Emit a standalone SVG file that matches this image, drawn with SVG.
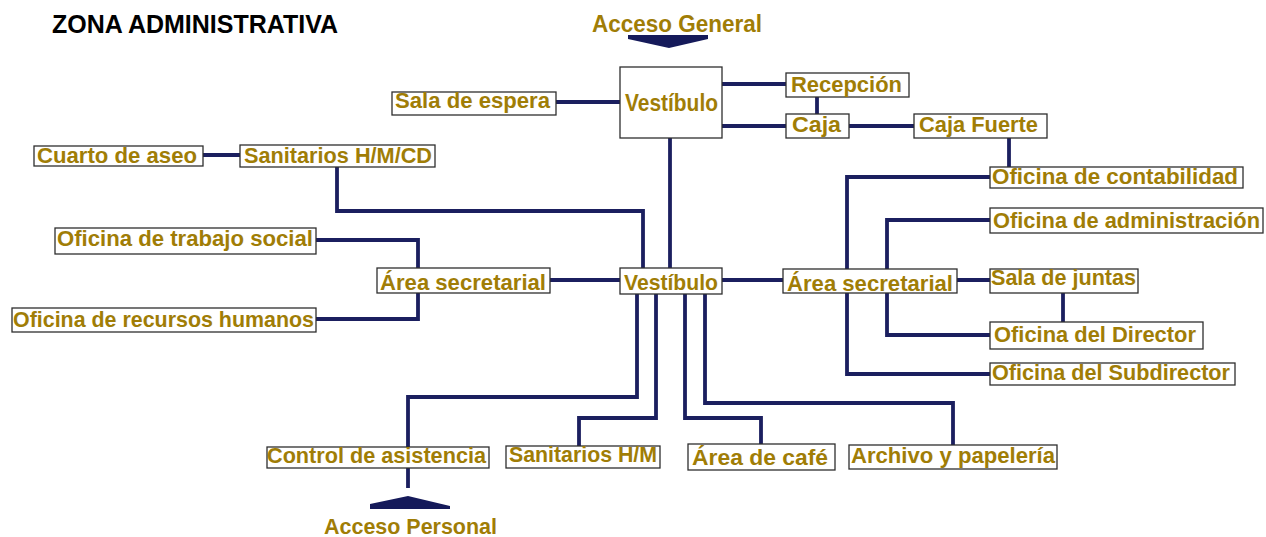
<svg xmlns="http://www.w3.org/2000/svg" width="1266" height="537" viewBox="0 0 1266 537">
<style>
  .bg{fill:#ffffff}
  .box{fill:#ffffff;stroke:#2e2e2e;stroke-width:1.3}
  .lbl{font-family:"Liberation Sans",Arial,sans-serif;font-weight:bold;font-size:22px;fill:#A07D06}
  .big{font-size:23px}
  .title{font-family:"Liberation Sans",Arial,sans-serif;font-weight:bold;font-size:25px;fill:#000000}
  .con{fill:none;stroke:#1b1f5f;stroke-width:3.8;stroke-linejoin:miter}
  .arr{fill:#151a5a}
</style>
<rect class="bg" x="0" y="0" width="1266" height="537"/>
<text class="title" x="52" y="33" textLength="286" lengthAdjust="spacingAndGlyphs">ZONA ADMINISTRATIVA</text>

<g id="connectors">
  <polyline class="con" points="722,84 786,84"/>
  <polyline class="con" points="722,126 786,126"/>
  <polyline class="con" points="817,97 817,114"/>
  <polyline class="con" points="849,126 914,126"/>
  <polyline class="con" points="1009,138 1009,167"/>
  <polyline class="con" points="556,102 620,102"/>
  <polyline class="con" points="670,138 670,268"/>
  <polyline class="con" points="203,155 240,155"/>
  <polyline class="con" points="337,167 337,211 643,211 643,268"/>
  <polyline class="con" points="316,240 418,240 418,268"/>
  <polyline class="con" points="316,319 418,319 418,293"/>
  <polyline class="con" points="550,280 620,280"/>
  <polyline class="con" points="722,280 783,280"/>
  <polyline class="con" points="957,280 990,280"/>
  <polyline class="con" points="1063,293 1063,322"/>
  <polyline class="con" points="990,177 847,177 847,374 990,374"/>
  <polyline class="con" points="990,220 887,220 887,335 990,335"/>
  <polyline class="con" points="637,294 637,397 408,397 408,488"/>
  <polyline class="con" points="656,294 656,418 579,418 579,446"/>
  <polyline class="con" points="685,294 685,418 761,418 761,444"/>
  <polyline class="con" points="705,294 705,403 953,403 953,445"/>
</g>

<g id="acceso-general">
  <text class="lbl big" x="592" y="32" textLength="170" lengthAdjust="spacingAndGlyphs">Acceso General</text>
  <polygon class="arr" points="628,35 708,35 708,39 669,48 628,39"/>
</g>
<g id="acceso-personal">
  <polygon class="arr" points="370,504 408,496 450,506 450,509 370,509"/>
  <text class="lbl" x="324" y="534" textLength="173" lengthAdjust="spacingAndGlyphs">Acceso Personal</text>
</g>

<g id="vestibulo-general">
  <rect class="box" x="620" y="67" width="102" height="71"/>
  <text class="lbl big" x="625" y="111" textLength="93" lengthAdjust="spacingAndGlyphs">Vestíbulo</text>
</g>
<g id="recepcion">
  <rect class="box" x="786" y="73" width="123" height="24"/>
  <text class="lbl" x="791" y="92" textLength="111" lengthAdjust="spacingAndGlyphs">Recepción</text>
</g>
<g id="caja">
  <rect class="box" x="786" y="114" width="63" height="24"/>
  <text class="lbl" x="792" y="132" textLength="49" lengthAdjust="spacingAndGlyphs">Caja</text>
</g>
<g id="caja-fuerte">
  <rect class="box" x="914" y="114" width="133" height="24"/>
  <text class="lbl" x="919" y="132" textLength="119" lengthAdjust="spacingAndGlyphs">Caja Fuerte</text>
</g>
<g id="sala-espera">
  <rect class="box" x="392" y="92" width="164" height="23"/>
  <text class="lbl" x="395" y="108" textLength="155" lengthAdjust="spacingAndGlyphs">Sala de espera</text>
</g>
<g id="cuarto-aseo">
  <rect class="box" x="34" y="146" width="169" height="20"/>
  <text class="lbl" x="37" y="163" textLength="160" lengthAdjust="spacingAndGlyphs">Cuarto de aseo</text>
</g>
<g id="sanitarios-hmcd">
  <rect class="box" x="240" y="145" width="195" height="22"/>
  <text class="lbl" x="244" y="163" textLength="188" lengthAdjust="spacingAndGlyphs">Sanitarios H/M/CD</text>
</g>
<g id="oficina-contabilidad">
  <rect class="box" x="990" y="167" width="253" height="21"/>
  <text class="lbl" x="992" y="184" textLength="246" lengthAdjust="spacingAndGlyphs">Oficina de contabilidad</text>
</g>
<g id="oficina-administracion">
  <rect class="box" x="990" y="208" width="273" height="25"/>
  <text class="lbl" x="993" y="228" textLength="267" lengthAdjust="spacingAndGlyphs">Oficina de administración</text>
</g>
<g id="oficina-trabajo-social">
  <rect class="box" x="55" y="228" width="261" height="26"/>
  <text class="lbl" x="57" y="246" textLength="256" lengthAdjust="spacingAndGlyphs">Oficina de trabajo social</text>
</g>
<g id="oficina-recursos-humanos">
  <rect class="box" x="12" y="308" width="304" height="24"/>
  <text class="lbl" x="13" y="327" textLength="301" lengthAdjust="spacingAndGlyphs">Oficina de recursos humanos</text>
</g>
<g id="area-secretarial-izq">
  <rect class="box" x="377" y="268" width="173" height="25"/>
  <text class="lbl" x="380" y="290" textLength="166" lengthAdjust="spacingAndGlyphs">Área secretarial</text>
</g>
<g id="vestibulo-central">
  <rect class="box" x="620" y="268" width="102" height="26"/>
  <text class="lbl" x="624" y="290" textLength="94" lengthAdjust="spacingAndGlyphs">Vestíbulo</text>
</g>
<g id="area-secretarial-der">
  <rect class="box" x="783" y="269" width="174" height="24"/>
  <text class="lbl" x="787" y="291" textLength="166" lengthAdjust="spacingAndGlyphs">Área secretarial</text>
</g>
<g id="sala-juntas">
  <rect class="box" x="990" y="269" width="148" height="24"/>
  <text class="lbl" x="991" y="285" textLength="145" lengthAdjust="spacingAndGlyphs">Sala de juntas</text>
</g>
<g id="oficina-director">
  <rect class="box" x="990" y="322" width="213" height="27"/>
  <text class="lbl" x="994" y="342" textLength="202" lengthAdjust="spacingAndGlyphs">Oficina del Director</text>
</g>
<g id="oficina-subdirector">
  <rect class="box" x="990" y="363" width="245" height="22"/>
  <text class="lbl" x="992" y="380" textLength="238" lengthAdjust="spacingAndGlyphs">Oficina del Subdirector</text>
</g>
<g id="control-asistencia">
  <rect class="box" x="267" y="447" width="222" height="21"/>
  <text class="lbl" x="267" y="463" textLength="219" lengthAdjust="spacingAndGlyphs">Control de asistencia</text>
</g>
<g id="sanitarios-hm">
  <rect class="box" x="506" y="446" width="154" height="22"/>
  <text class="lbl" x="509" y="462" textLength="148" lengthAdjust="spacingAndGlyphs">Sanitarios H/M</text>
</g>
<g id="area-cafe">
  <rect class="box" x="688" y="444" width="147" height="26"/>
  <text class="lbl" x="692" y="465" textLength="136" lengthAdjust="spacingAndGlyphs">Área de café</text>
</g>
<g id="archivo-papeleria">
  <rect class="box" x="849" y="445" width="208" height="24"/>
  <text class="lbl" x="851" y="463" textLength="204" lengthAdjust="spacingAndGlyphs">Archivo y papelería</text>
</g>
</svg>
